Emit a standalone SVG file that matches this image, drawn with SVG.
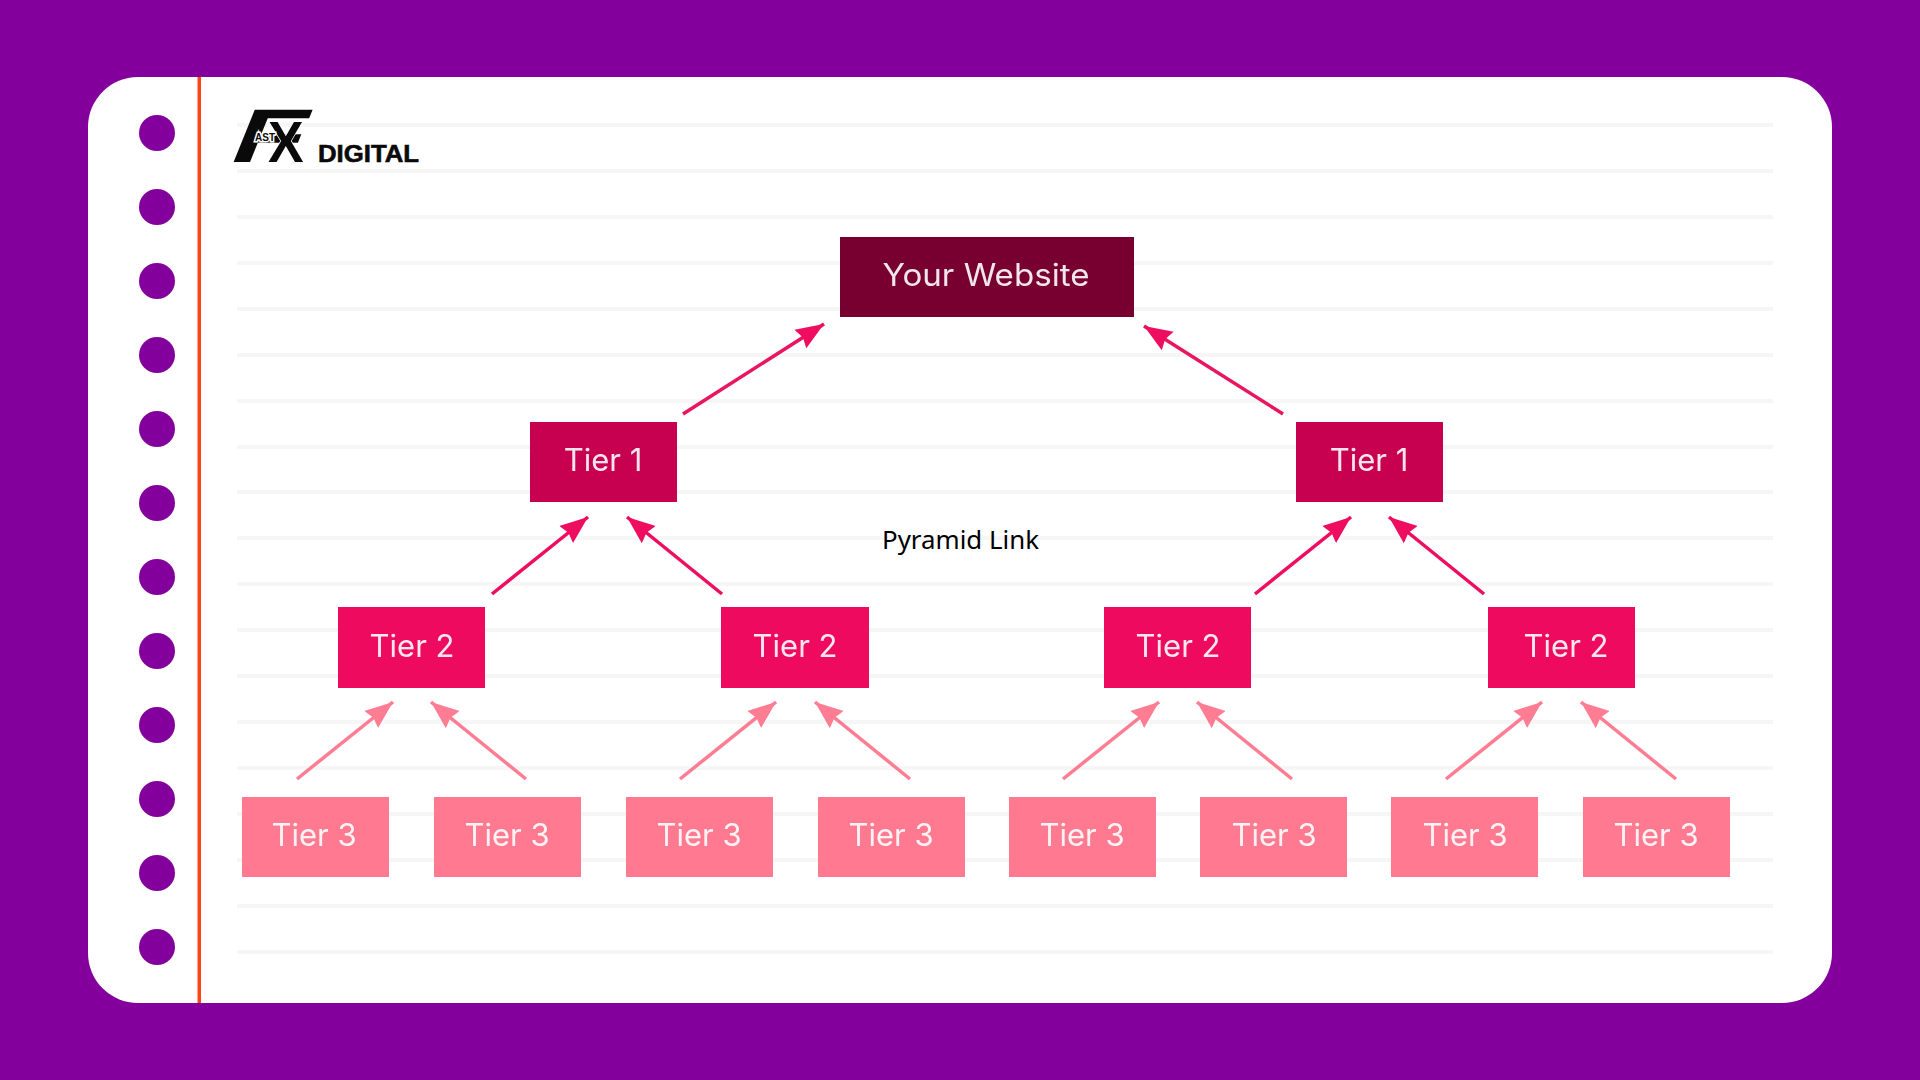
<svg xmlns="http://www.w3.org/2000/svg" width="1920" height="1080" viewBox="0 0 1920 1080">
<style>
.rule{fill:#f6f6f6}
.dot{fill:#83009c}
.lbl{font-family:"Inter","Liberation Sans",sans-serif;fill:#fff;text-anchor:middle;opacity:.9}
.web{fill:#780030}.t1{fill:#c80050}.t2{fill:#ee0a5e}.t3{fill:#ff7a90}
.c1{stroke:#e8155f;stroke-width:3.500;fill:none;marker-end:url(#h1)}
.c2{stroke:#ee0a5e;stroke-width:3.500;fill:none;marker-end:url(#h1)}
.c3{stroke:#ff7d92;stroke-width:3.500;fill:none;marker-end:url(#h3)}
.logo{font-family:"Liberation Sans",sans-serif;font-weight:700;fill:#0a0a0a}
</style>
<defs>
<marker id="h1" markerUnits="userSpaceOnUse" markerWidth="30" markerHeight="26" refX="28" refY="12" orient="auto"><path d="M0 1L28 12L0 23L3 12Z" fill="#ee0a5e"/></marker>
<marker id="h3" markerUnits="userSpaceOnUse" markerWidth="30" markerHeight="26" refX="28" refY="12" orient="auto"><path d="M0 1L28 12L0 23L3 12Z" fill="#ff7d92"/></marker>
<filter id="soft" x="-5%" y="-5%" width="110%" height="110%"><feGaussianBlur stdDeviation="0.5"/></filter>
</defs>
<rect width="1920" height="1080" fill="#83009c"/>
<rect x="88" y="77" width="1744" height="926" rx="50" fill="#fff"/>
<g id="rules">
<rect class="rule" x="237" y="123" width="1536" height="4"/><rect class="rule" x="237" y="169" width="1536" height="4"/><rect class="rule" x="237" y="215" width="1536" height="4"/><rect class="rule" x="237" y="261" width="1536" height="4"/><rect class="rule" x="237" y="307" width="1536" height="4"/><rect class="rule" x="237" y="353" width="1536" height="4"/><rect class="rule" x="237" y="399" width="1536" height="4"/><rect class="rule" x="237" y="445" width="1536" height="4"/><rect class="rule" x="237" y="490" width="1536" height="4"/><rect class="rule" x="237" y="536" width="1536" height="4"/><rect class="rule" x="237" y="582" width="1536" height="4"/><rect class="rule" x="237" y="628" width="1536" height="4"/><rect class="rule" x="237" y="674" width="1536" height="4"/><rect class="rule" x="237" y="720" width="1536" height="4"/><rect class="rule" x="237" y="766" width="1536" height="4"/><rect class="rule" x="237" y="812" width="1536" height="4"/><rect class="rule" x="237" y="858" width="1536" height="4"/><rect class="rule" x="237" y="904" width="1536" height="4"/><rect class="rule" x="237" y="950" width="1536" height="4"/>
</g>
<rect x="197.500" y="77" width="3.500" height="926" fill="#ff4314"/>
<g id="holes">
<circle class="dot" cx="157" cy="133" r="18"/><circle class="dot" cx="157" cy="207" r="18"/><circle class="dot" cx="157" cy="281" r="18"/><circle class="dot" cx="157" cy="355" r="18"/><circle class="dot" cx="157" cy="429" r="18"/><circle class="dot" cx="157" cy="503" r="18"/><circle class="dot" cx="157" cy="577" r="18"/><circle class="dot" cx="157" cy="651" r="18"/><circle class="dot" cx="157" cy="725" r="18"/><circle class="dot" cx="157" cy="799" r="18"/><circle class="dot" cx="157" cy="873" r="18"/><circle class="dot" cx="157" cy="947" r="18"/>
</g>
<g id="logo">
<text class="logo" transform="translate(226 162) skewX(-22) scale(1.5 1)" font-size="76">F</text>
<text class="logo" transform="translate(268 162) scale(.92 1)" font-size="58" stroke="#fff" stroke-width="1.500" paint-order="stroke">X</text>
<text class="logo" x="255" y="141" font-size="10" stroke="#fff" stroke-width="3" paint-order="stroke">AST</text>
<text class="logo" x="318" y="162" font-size="24" textLength="101" lengthAdjust="spacingAndGlyphs" stroke="#0a0a0a" stroke-width=".6">DIGITAL</text>
</g>
<g id="connectors" filter="url(#soft)">
<path class="c1" d="M683 414L824 324"/><path class="c1" d="M1283 414L1144 326"/>
<path class="c2" d="M492 594L588 517"/><path class="c2" d="M722 594L627 517"/><path class="c2" d="M1255 594L1351 517"/><path class="c2" d="M1484 594L1389 517"/>
<path class="c3" d="M297 779L393 702"/><path class="c3" d="M526 779L431 702"/><path class="c3" d="M680 779L776 702"/><path class="c3" d="M910 779L815 702"/><path class="c3" d="M1063 779L1159 702"/><path class="c3" d="M1292 779L1197 702"/><path class="c3" d="M1446 779L1542 702"/><path class="c3" d="M1676 779L1581 702"/>
</g>
<g id="node-website"><rect class="web" x="840" y="237" width="294" height="80"/><text class="lbl" x="986" y="286" font-size="31" textLength="207" lengthAdjust="spacingAndGlyphs" filter="url(#soft)">Your Website</text></g>
<g id="node-t1a"><rect class="t1" x="530" y="422" width="147" height="80"/><text class="lbl" x="603" y="471" font-size="31" filter="url(#soft)">Tier 1</text></g>
<g id="node-t1b"><rect class="t1" x="1296" y="422" width="147" height="80"/><text class="lbl" x="1369" y="471" font-size="31" filter="url(#soft)">Tier 1</text></g>
<g id="node-t2a"><rect class="t2" x="338" y="607" width="147" height="81"/><text class="lbl" x="412" y="657" font-size="31" filter="url(#soft)">Tier 2</text></g>
<g id="node-t2b"><rect class="t2" x="721" y="607" width="148" height="81"/><text class="lbl" x="795" y="657" font-size="31" filter="url(#soft)">Tier 2</text></g>
<g id="node-t2c"><rect class="t2" x="1104" y="607" width="147" height="81"/><text class="lbl" x="1178" y="657" font-size="31" filter="url(#soft)">Tier 2</text></g>
<g id="node-t2d"><rect class="t2" x="1488" y="607" width="147" height="81"/><text class="lbl" x="1566" y="657" font-size="31" filter="url(#soft)">Tier 2</text></g>
<g id="node-t3a"><rect class="t3" x="242" y="797" width="147" height="80"/><text class="lbl" x="314" y="846" font-size="31" filter="url(#soft)">Tier 3</text></g>
<g id="node-t3b"><rect class="t3" x="434" y="797" width="147" height="80"/><text class="lbl" x="507" y="846" font-size="31" filter="url(#soft)">Tier 3</text></g>
<g id="node-t3c"><rect class="t3" x="626" y="797" width="147" height="80"/><text class="lbl" x="699" y="846" font-size="31" filter="url(#soft)">Tier 3</text></g>
<g id="node-t3d"><rect class="t3" x="818" y="797" width="147" height="80"/><text class="lbl" x="891" y="846" font-size="31" filter="url(#soft)">Tier 3</text></g>
<g id="node-t3e"><rect class="t3" x="1009" y="797" width="147" height="80"/><text class="lbl" x="1082" y="846" font-size="31" filter="url(#soft)">Tier 3</text></g>
<g id="node-t3f"><rect class="t3" x="1200" y="797" width="147" height="80"/><text class="lbl" x="1274" y="846" font-size="31" filter="url(#soft)">Tier 3</text></g>
<g id="node-t3g"><rect class="t3" x="1391" y="797" width="147" height="80"/><text class="lbl" x="1465" y="846" font-size="31" filter="url(#soft)">Tier 3</text></g>
<g id="node-t3h"><rect class="t3" x="1583" y="797" width="147" height="80"/><text class="lbl" x="1656" y="846" font-size="31" filter="url(#soft)">Tier 3</text></g>
<text x="882" y="549" font-family="'Noto Sans','Liberation Sans',sans-serif" font-size="26" fill="#000" textLength="157" lengthAdjust="spacingAndGlyphs">Pyramid Link</text>
</svg>
